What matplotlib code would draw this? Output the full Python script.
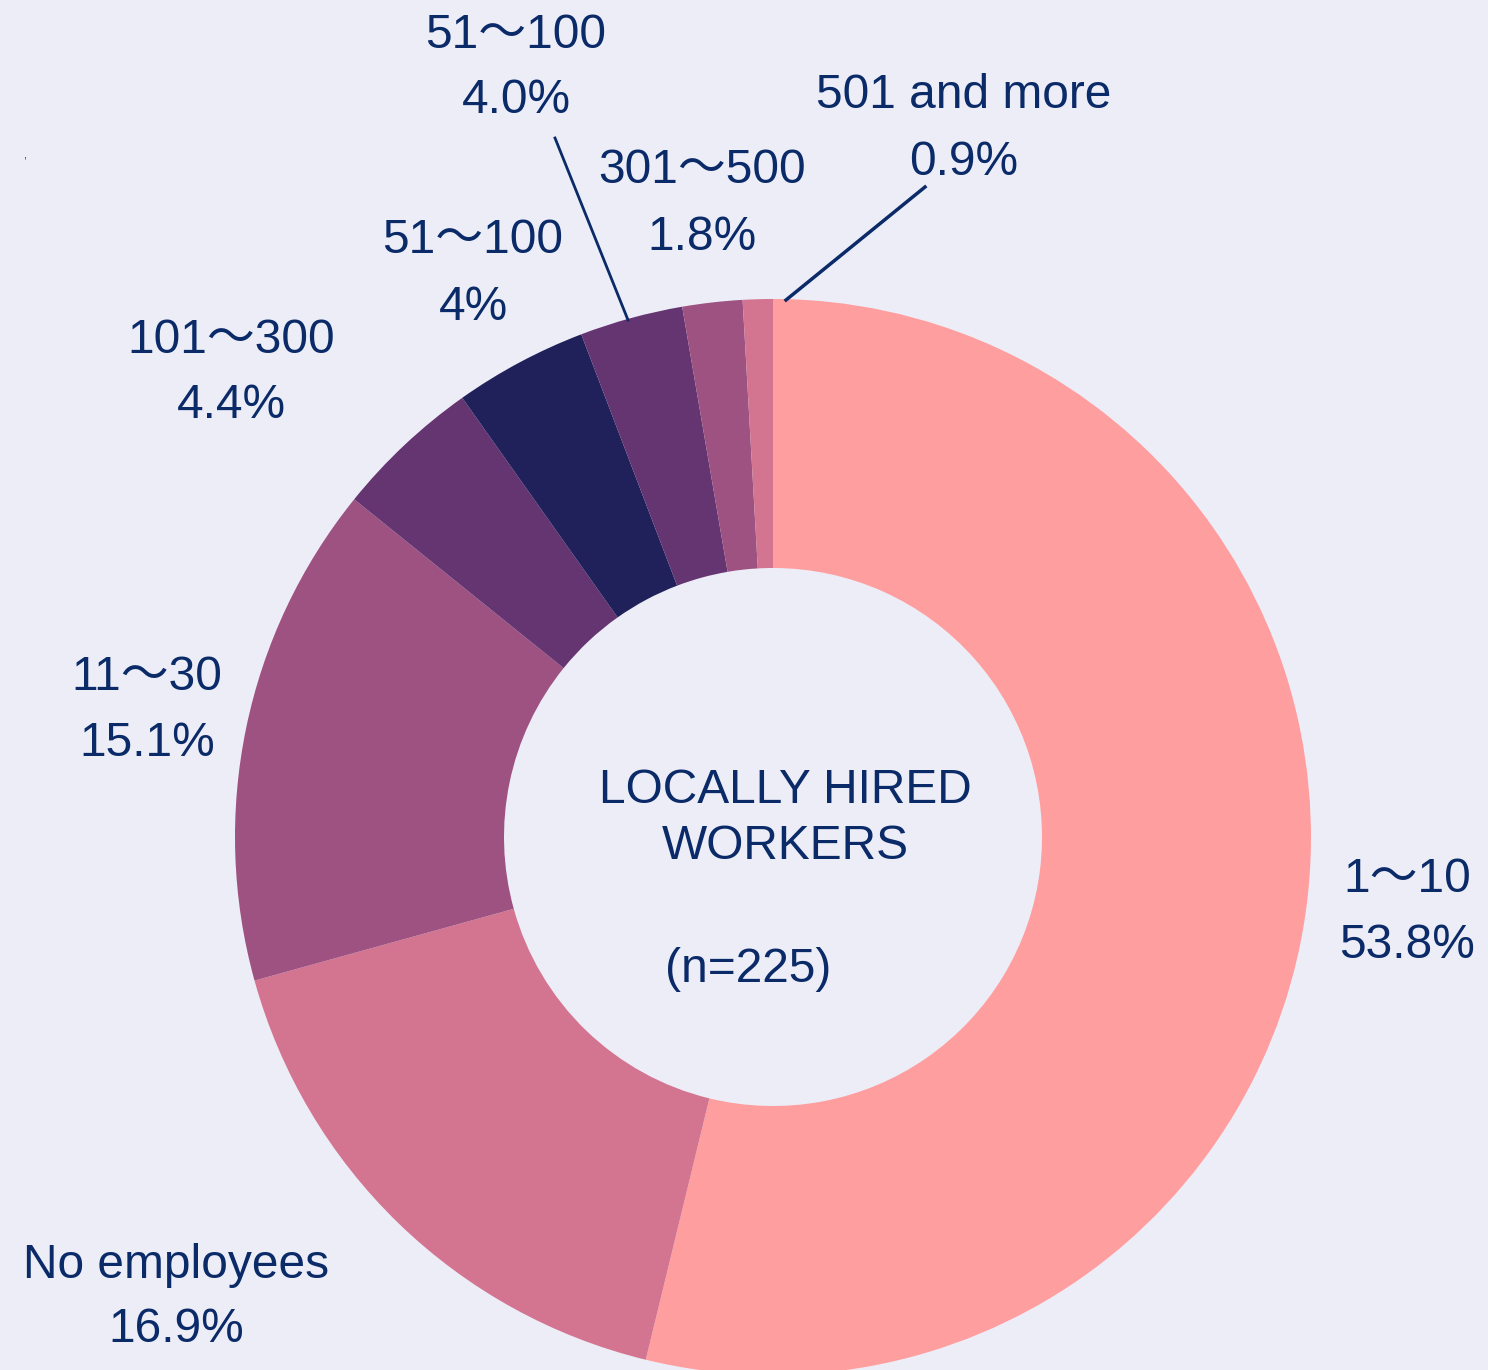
import matplotlib.pyplot as plt

# data
categories = ["1～10", "No employees", "11～30", "101～300", "51～100", "51～100", "301～500", "501 and more"]
shares = [53.8, 16.9, 15.1, 4.4, 4.0, 3.1, 1.8, 0.9]
pct_labels = ["53.8%", "16.9%", "15.1%", "4.4%", "4%", "4.0%", "1.8%", "0.9%"]
colors = ["#FF9E9E", "#D37590", "#9E5282", "#643570", "#20205A", "#643570", "#9E5282", "#D37590"]

BG = "#EDEDF8"
TXT = "#0A2A68"
FONT = ["Liberation Sans", "Noto Sans CJK JP", "DejaVu Sans"]
FS = 34.5

W, H = 1488, 1370
fig = plt.figure(figsize=(W / 100, H / 100), dpi=100, facecolor=BG)
ax = fig.add_axes([0, 0, 1, 1])
ax.set_facecolor(BG)

# pie geometry in pixel coords (y flipped)
cx, cy, r_out, r_in = 773, H - 837, 538, 269
ax.pie(shares, colors=colors, startangle=90, counterclock=False,
       center=(cx, cy), radius=r_out,
       wedgeprops=dict(width=r_out - r_in, linewidth=0))

ax.set_xlim(0, W)
ax.set_ylim(0, H)
ax.axis("off")

# label positions (x, y of first line, y of second line) in pixels
label_pos = [
    (1407, 880, 946),
    (176, 1265, 1330),
    (147, 677, 743),
    (231, 340, 405),
    (473, 240, 307),
    (516, 35, 100),
    (702, 170, 237),
    (964, 95, 162),
]

for cat, pct, (x, y1, y2) in zip(categories, pct_labels, label_pos):
    ax.text(x, H - y1, cat, ha="center", va="center", fontsize=FS, color=TXT, family=FONT)
    ax.text(x, H - y2, pct, ha="center", va="center", fontsize=FS, color=TXT, family=FONT)

# leader lines
ax.plot([555, 628], [H - 138, H - 320], color=TXT, lw=2)
ax.plot([925, 786], [H - 187, H - 300], color=TXT, lw=2.5)

# center text
ax.text(785, H - 790, "LOCALLY HIRED", ha="center", va="center", fontsize=FS, color=TXT, family=FONT)
ax.text(785, H - 846, "WORKERS", ha="center", va="center", fontsize=FS, color=TXT, family=FONT)
ax.text(748, H - 970, "(n=225)", ha="center", va="center", fontsize=FS, color=TXT, family=FONT)

ax.text(25, H - 155, ",", ha="center", va="center", fontsize=8, color="#222222", family=FONT)

fig.savefig("out.png", dpi=100, facecolor=BG)
